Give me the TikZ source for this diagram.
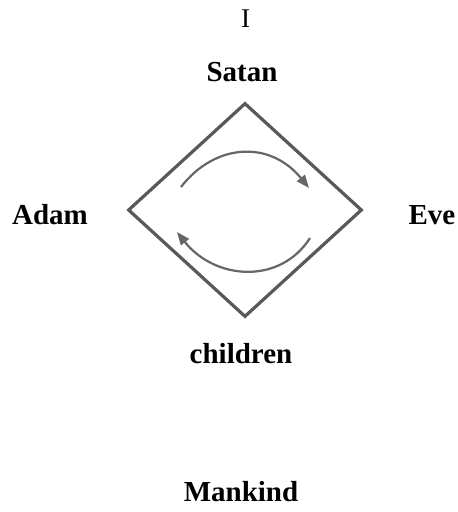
\documentclass[tikz,border=0pt]{standalone}
\usepackage{fontspec}
\setmainfont{Liberation Serif}
\usetikzlibrary{shapes.geometric,arrows.meta}
\begin{document}
\begin{tikzpicture}[x=1pt,y=-1pt,
  lbl/.style={font=\fontsize{29}{31}\selectfont\bfseries, inner sep=0pt},
  rhomb/.style={diamond, draw=black!65, line width=3.2pt, minimum width=234pt, minimum height=214pt, inner sep=0pt, aspect=1.09},
  cyc/.style={draw=black!60, line width=2.2pt, -{Triangle[length=13pt,width=10pt]}}]
\useasboundingbox[fill=white] (0,0) rectangle (458,512);
\node[font=\fontsize{27}{29}\selectfont, inner sep=0pt] (one) at (245.5,19) {I};
\node[lbl] (satan) at (242,72) {Satan};
\node[lbl] (adam) at (50,215) {Adam};
\node[lbl] (eve) at (432,215) {Eve};
\node[lbl] (children) at (241,354) {children};
\node[lbl] (mankind) at (241,492) {Mankind};
\node[rhomb] (d) at (245,210) {};
\coordinate (a1) at (181,187);
\coordinate (a2) at (309,188);
\coordinate (b1) at (310,238);
\coordinate (b2) at (177,232);
\draw[cyc] (a1) .. controls (215,143) and (270,140) .. (a2);
\draw[cyc] (b1) .. controls (280,285) and (215,280) .. (b2);
\end{tikzpicture}
\end{document}
